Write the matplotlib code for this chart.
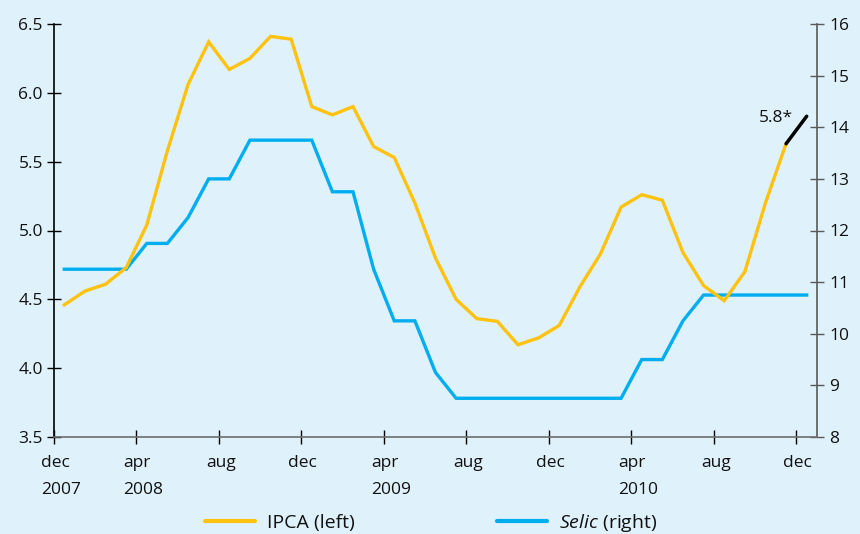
import matplotlib
matplotlib.use("Agg")
import matplotlib.pyplot as plt
import matplotlib.transforms as mtransforms
import numpy as np

# ---- data ----
months = ["dec 2007", "jan 2008", "feb 2008", "mar 2008", "apr 2008", "may 2008", "jun 2008",
          "jul 2008", "aug 2008", "sep 2008", "oct 2008", "nov 2008", "dec 2008",
          "jan 2009", "feb 2009", "mar 2009", "apr 2009", "may 2009", "jun 2009",
          "jul 2009", "aug 2009", "sep 2009", "oct 2009", "nov 2009", "dec 2009",
          "jan 2010", "feb 2010", "mar 2010", "apr 2010", "may 2010", "jun 2010",
          "jul 2010", "aug 2010", "sep 2010", "oct 2010", "nov 2010", "dec 2010"]
ipca = [4.46, 4.56, 4.61, 4.73, 5.04, 5.58, 6.06, 6.37, 6.17, 6.25, 6.41, 6.39, 5.90,
        5.84, 5.90, 5.61, 5.53, 5.20, 4.80, 4.50, 4.36, 4.34, 4.17, 4.22, 4.31,
        4.59, 4.83, 5.17, 5.26, 5.22, 4.84, 4.60, 4.49, 4.70, 5.20, 5.63]
ipca_forecast = [5.63, 5.83]
forecast_label = "5.8*"
selic = [11.25, 11.25, 11.25, 11.25, 11.75, 11.75, 12.25, 13.00, 13.00, 13.75, 13.75, 13.75, 13.75,
         12.75, 12.75, 11.25, 10.25, 10.25, 9.25, 8.75, 8.75, 8.75, 8.75, 8.75, 8.75,
         8.75, 8.75, 8.75, 9.50, 9.50, 10.25, 10.75, 10.75, 10.75, 10.75, 10.75, 10.75]
xtick_labels = ["dec\n2007", "apr\n2008", "aug", "dec", "apr\n2009", "aug", "dec",
                "apr\n2010", "aug", "dec"]
left_ticks = [3.5, 4.0, 4.5, 5.0, 5.5, 6.0, 6.5]
right_ticks = [8, 9, 10, 11, 12, 13, 14, 15, 16]

BG = "#dff1fb"
YELLOW = "#ffc20e"
BLUE = "#00aeef"
TXT = "#111111"

plt.rcParams["font.family"] = ["Open Sans", "DejaVu Sans"]
plt.rcParams["mathtext.fontset"] = "custom"
plt.rcParams["mathtext.it"] = "Open Sans:italic"
plt.rcParams["mathtext.rm"] = "Open Sans"

W, H = 860, 534
fig = plt.figure(figsize=(W / 100, H / 100), dpi=100, facecolor=BG)
L, R, B, T = 54, 817, 437, 24
ax = fig.add_axes([L / W, 1 - B / H, (R - L) / W, (B - T) / H])
ax.set_facecolor(BG)
ax2 = ax.twinx()

x_ipca = np.arange(len(ipca)) + 0.5
x_sel = np.arange(len(selic)) + 0.5
x_fc = np.array([len(ipca) - 1, len(ipca)]) + 0.5

ln2, = ax2.plot(x_sel, selic, color=BLUE, lw=2.4, solid_joinstyle="miter", zorder=2,
                label=r"$\mathit{Selic}$ (right)")
ln1, = ax.plot(x_ipca, ipca, color=YELLOW, lw=2.4, solid_joinstyle="miter", zorder=3,
               label="IPCA (left)")
ax.plot(x_fc, ipca_forecast, color="black", lw=2.5, solid_capstyle="round", zorder=4)
ax.annotate(forecast_label, xy=(x_fc[0], ipca_forecast[0]), xytext=(7, 26),
            textcoords="offset pixels", ha="right", va="center", fontsize=12.5, color=TXT)

ax.set_zorder(ax2.get_zorder() + 1)
ax.patch.set_visible(False)
ax2.patch.set_visible(True)
ax2.patch.set_facecolor(BG)

ax.set_xlim(0, 37)
ax.set_ylim(3.5, 6.5)
ax2.set_ylim(8, 16)
ax.set_yticks(left_ticks)
ax.set_yticklabels([f"{v:.1f}" for v in left_ticks])
ax2.set_yticks(right_ticks)
ax2.set_yticklabels([str(v) for v in right_ticks])
ax.set_xticks(np.arange(0, 37, 4))
ax.set_xticklabels(xtick_labels)

for a in (ax, ax2):
    a.spines["top"].set_visible(False)
ax.spines["right"].set_visible(False)
ax2.spines["left"].set_visible(False)
ax2.spines["bottom"].set_visible(False)
ax.spines["left"].set_color("black")
ax.spines["left"].set_linewidth(1.2)
ax.spines["bottom"].set_color("#6e6e6e")
ax.spines["bottom"].set_linewidth(1.2)
ax2.spines["right"].set_color("#5a5a5a")
ax2.spines["right"].set_linewidth(1.2)

ax.tick_params(axis="y", direction="inout", length=10, width=1.0, color="black",
               labelsize=12.5, pad=3, labelcolor=TXT)
ax2.tick_params(axis="y", direction="inout", length=10, width=1.0, color="#5a5a5a",
                labelsize=12.5, pad=4, labelcolor=TXT)
ax.tick_params(axis="x", direction="inout", length=10, width=1.0, color="black",
               labelsize=12.5, pad=8, labelcolor=TXT)

offset = mtransforms.ScaledTranslation(-13 / 100, 0, fig.dpi_scale_trans)
for lab in ax.get_xticklabels():
    lab.set_horizontalalignment("left")
    lab.set_multialignment("left")
    lab.set_linespacing(1.95)
    lab.set_transform(lab.get_transform() + offset)

LEG_FS = 14
fs_px = LEG_FS * 100 / 72
common = dict(loc="center left", frameon=False, fontsize=LEG_FS,
              handlelength=50 / fs_px, handletextpad=12 / fs_px,
              borderaxespad=0, borderpad=0)
leg1 = fig.legend(handles=[ln1], bbox_to_anchor=(205 / W, 1 - 523 / H), **common)
leg2 = fig.legend(handles=[ln2], bbox_to_anchor=(497 / W, 1 - 523 / H), **common)
for leg in (leg1, leg2):
    for line in leg.get_lines():
        line.set_linewidth(3)
        line.set_solid_capstyle("round")
    for t in leg.get_texts():
        t.set_color(TXT)

fig.savefig("out.png", dpi=100, facecolor=BG)
